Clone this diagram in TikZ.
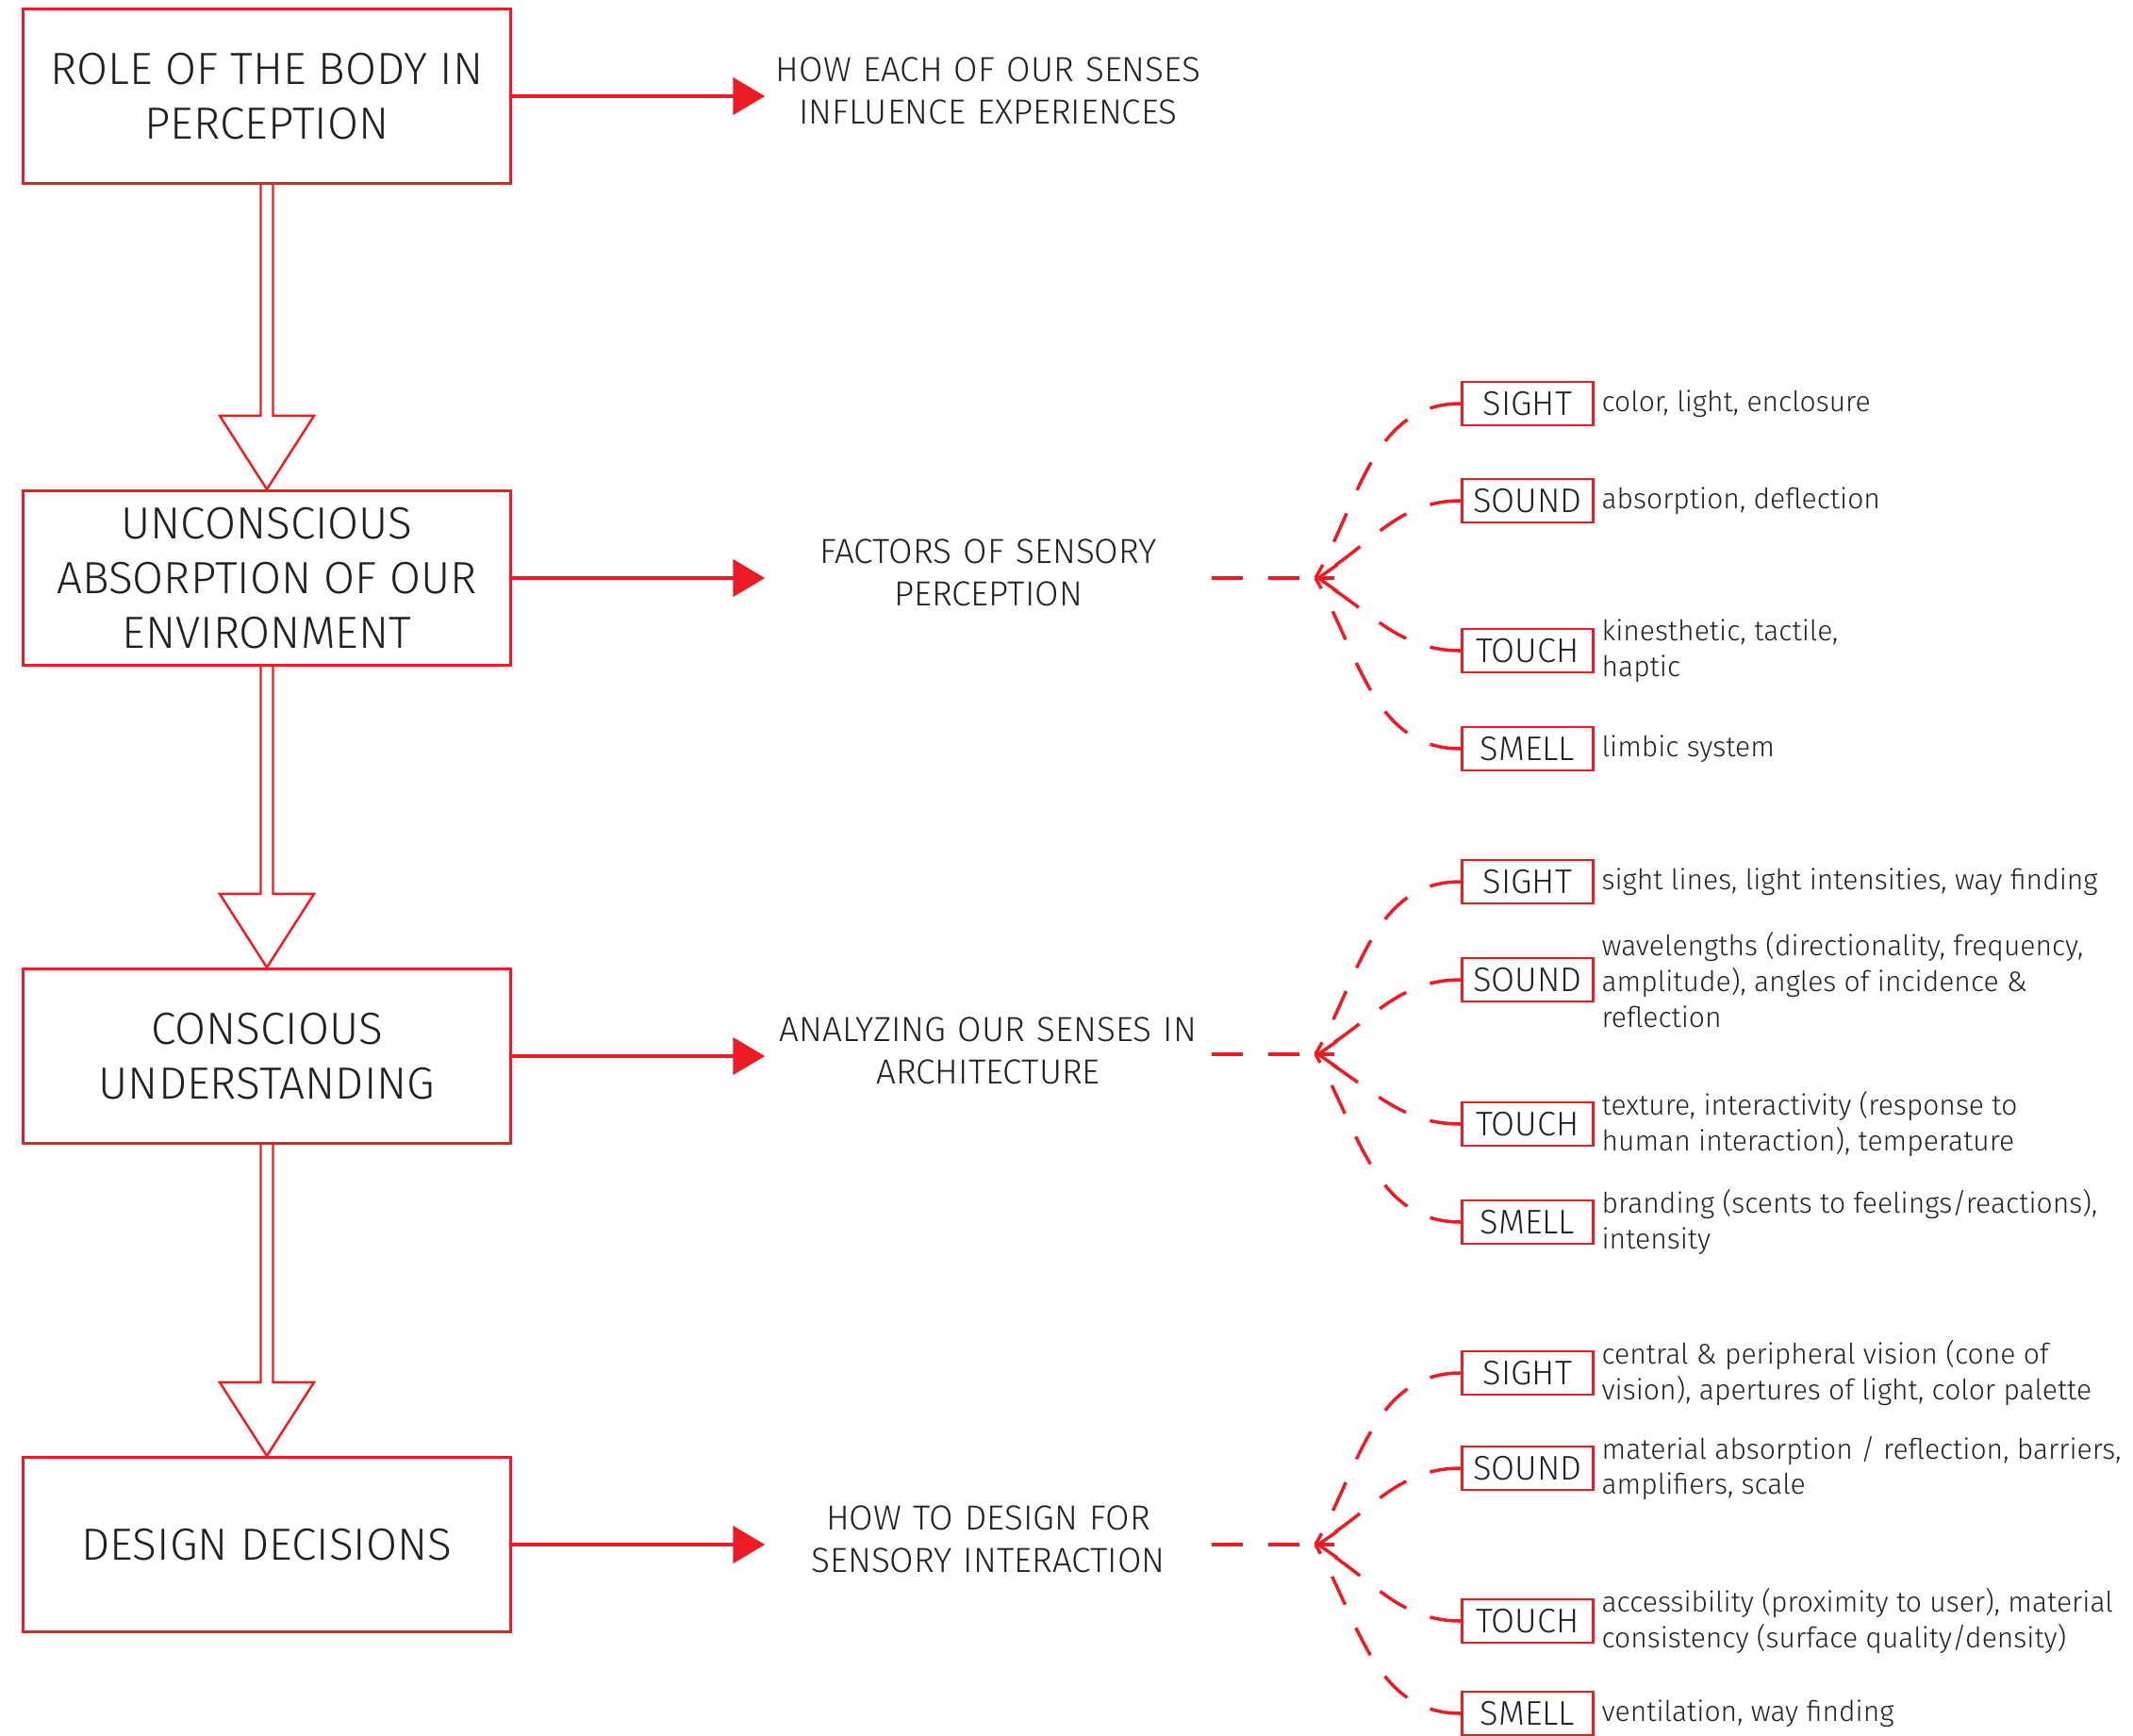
\documentclass[tikz,border=0pt]{standalone}
\usepackage{fontspec}
\setmainfont{Fira Sans Light}
\usetikzlibrary{arrows.meta,positioning,calc}
\definecolor{redline}{HTML}{ED1C24}
\definecolor{inkgray}{HTML}{231F20}

\begin{document}
\begin{tikzpicture}[
    stage/.style={rectangle, draw=redline, line width=0.9pt, text=inkgray, minimum width=5.17cm, minimum height=1.85cm, align=center, font=\fontsize{13.6}{16.5}\selectfont},
    topic/.style={text=inkgray, text width=4.6cm, inner sep=0.06cm, align=center, font=\fontsize{10.5}{12.8}\selectfont},
    sense/.style={rectangle, draw=redline, line width=0.8pt, text=inkgray, minimum width=1.39cm, minimum height=0.46cm, inner sep=0pt, font=\fontsize{10.3}{12}\selectfont},
    detail/.style={text=inkgray, align=left, inner sep=0.07cm, font=\fontsize{8.55}{10.8}\selectfont},
    flow/.style={draw=redline, line width=1.3pt, -{Triangle[length=0.34cm,width=0.39cm]}},
    hollow/.style={draw=redline, line width=0.7pt, to path={
        ($(\tikztostart)+(-0.065,0)$) -- ($(\tikztotarget)+(-0.065,0.78)$)
        -- ($(\tikztotarget)+(-0.5,0.78)$) -- (\tikztotarget)
        -- ($(\tikztotarget)+(0.5,0.78)$) -- ($(\tikztotarget)+(0.065,0.78)$)
        -- ($(\tikztostart)+(0.065,0)$)}},
    link/.style={draw=redline, line width=1pt, dash pattern=on 0.33cm off 0.27cm},
    barb/.style={draw=redline, line width=1pt, -{Straight Barb[length=0.2cm,width=0.28cm]}}
]
    \useasboundingbox (0,0) rectangle (22.62,-18.41);

    % Etapes
    \node[stage] (role) at (2.83,-1.02) {ROLE OF THE BODY IN\\PERCEPTION};
    \node[stage] (absorb) at (2.83,-6.13) {UNCONSCIOUS\\ABSORPTION OF OUR\\ENVIRONMENT};
    \node[stage] (conscious) at (2.83,-11.20) {CONSCIOUS\\UNDERSTANDING};
    \node[stage] (design) at (2.83,-16.38) {DESIGN DECISIONS};

    % Themes
    \node[topic] (howeach) at (10.48,-0.96) {HOW EACH OF OUR SENSES\\INFLUENCE EXPERIENCES};
    \node[topic] (factors) at (10.48,-6.07) {FACTORS OF SENSORY\\PERCEPTION};
    \node[topic] (analyzing) at (10.48,-11.14) {ANALYZING OUR SENSES IN\\ARCHITECTURE};
    \node[topic] (howto) at (10.48,-16.32) {HOW TO DESIGN FOR\\SENSORY INTERACTION};

    \coordinate (hubA) at (13.95,-6.13);
    \coordinate (hubB) at (13.95,-11.18);
    \coordinate (hubC) at (13.95,-16.38);

    % Sens - facteurs
    \node[sense] (sightA) at (16.20,-4.28) {SIGHT};
    \node[sense] (soundA) at (16.20,-5.31) {SOUND};
    \node[sense] (touchA) at (16.20,-6.90) {TOUCH};
    \node[sense] (smellA) at (16.20,-7.94) {SMELL};
    \node[detail, right=0pt of sightA] (sightAtxt) {color, light, enclosure};
    \node[detail, right=0pt of soundA] (soundAtxt) {absorption, deflection};
    \node[detail, right=0pt of touchA] (touchAtxt) {kinesthetic, tactile,\\haptic};
    \node[detail, right=0pt of smellA] (smellAtxt) {limbic system};

    % Sens - architecture
    \node[sense] (sightB) at (16.20,-9.35) {SIGHT};
    \node[sense] (soundB) at (16.20,-10.39) {SOUND};
    \node[sense] (touchB) at (16.20,-11.92) {TOUCH};
    \node[sense] (smellB) at (16.20,-12.96) {SMELL};
    \node[detail, right=0pt of sightB] (sightBtxt) {sight lines, light intensities, way finding};
    \node[detail, right=0pt of soundB] (soundBtxt) {wavelengths (directionality, frequency,\\amplitude), angles of incidence \&\\reflection};
    \node[detail, right=0pt of touchB] (touchBtxt) {texture, interactivity (response to\\human interaction), temperature};
    \node[detail, right=0pt of smellB] (smellBtxt) {branding (scents to feelings/reactions),\\intensity};

    % Sens - conception
    \node[sense] (sightC) at (16.20,-14.56) {SIGHT};
    \node[sense] (soundC) at (16.20,-15.57) {SOUND};
    \node[sense] (touchC) at (16.20,-17.19) {TOUCH};
    \node[sense] (smellC) at (16.20,-18.17) {SMELL};
    \node[detail, right=0pt of sightC] (sightCtxt) {central \& peripheral vision (cone of\\vision), apertures of light, color palette};
    \node[detail, right=0pt of soundC] (soundCtxt) {material absorption / reflection, barriers,\\amplifiers, scale};
    \node[detail, right=0pt of touchC] (touchCtxt) {accessibility (proximity to user), material\\consistency (surface quality/density)};
    \node[detail, right=0pt of smellC] (smellCtxt) {ventilation, way finding};

    % Fleches
    \draw[hollow] (role.south) to (absorb.north);
    \draw[hollow] (absorb.south) to (conscious.north);
    \draw[hollow] (conscious.south) to (design.north);

    \draw[flow] (role.east) -- (role.east -| howeach.west);
    \draw[flow] (absorb.east) -- (absorb.east -| factors.west);
    \draw[flow] (conscious.east) -- (conscious.east -| analyzing.west);
    \draw[flow] (design.east) -- (design.east -| howto.west);

    \draw[link, line width=1.4pt] (hubA -| factors.east) -- (hubA);
    \draw[link, line width=1.4pt] (hubB -| analyzing.east) -- (hubB);
    \draw[link, line width=1.4pt] (hubC -| howto.east) -- (hubC);
    \draw[barb] ([xshift=0.2cm]hubA) -- (hubA);
    \draw[barb] ([xshift=0.2cm]hubB) -- (hubB);
    \draw[barb] ([xshift=0.2cm]hubC) -- (hubC);

    \draw[link] (sightA.west) to[out=180, in=60] (hubA);
    \draw[link] (soundA.west) to[out=180, in=30] (hubA);
    \draw[link] (touchA.west) to[out=180, in=-30] (hubA);
    \draw[link] (smellA.west) to[out=180, in=-60] (hubA);

    \draw[link] (sightB.west) to[out=180, in=60] (hubB);
    \draw[link] (soundB.west) to[out=180, in=30] (hubB);
    \draw[link] (touchB.west) to[out=180, in=-30] (hubB);
    \draw[link] (smellB.west) to[out=180, in=-60] (hubB);

    \draw[link] (sightC.west) to[out=180, in=60] (hubC);
    \draw[link] (soundC.west) to[out=180, in=30] (hubC);
    \draw[link] (touchC.west) to[out=180, in=-30] (hubC);
    \draw[link] (smellC.west) to[out=180, in=-60] (hubC);

\end{tikzpicture}
\end{document}
